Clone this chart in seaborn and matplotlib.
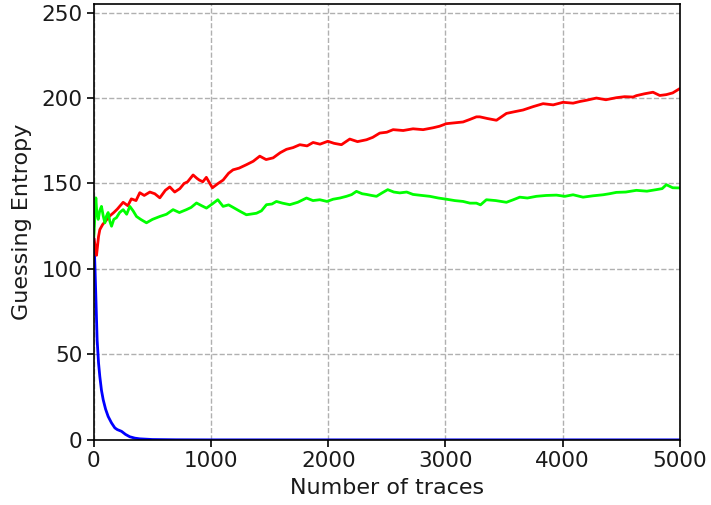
import matplotlib
matplotlib.use("Agg")
import matplotlib.pyplot as plt
import seaborn as sns

# ---- data ----
red_x = [0, 10, 23, 40, 51, 75, 100, 136, 170, 200, 250, 290, 320, 360, 392, 430, 478, 520, 563,
         610, 648, 690, 734, 770, 800, 847, 880, 900, 930, 960, 990, 1012, 1060, 1103, 1150, 1188,
         1240, 1302, 1360, 1416, 1470, 1530, 1590, 1644, 1700, 1758, 1820, 1871, 1930, 1997, 2050,
         2113, 2184, 2250, 2327, 2380, 2440, 2500, 2554, 2640, 2724, 2810, 2895, 2950, 3009, 3080,
         3151, 3210, 3265, 3294, 3360, 3436, 3521, 3590, 3663, 3750, 3834, 3920, 4004, 4090, 4150,
         4204, 4289, 4370, 4459, 4530, 4602, 4630, 4700, 4772, 4830, 4886, 4940, 5000]
red_y = [118, 114, 108, 119, 123, 126, 128, 131, 133, 135, 139, 137, 141, 140, 144.6, 143, 145,
         144, 141.6, 146, 148, 145, 147, 150, 151, 155, 153, 152, 151, 153.6, 150, 147.5, 150, 152,
         156, 158, 159, 161, 163, 166, 164, 165, 168, 170, 171, 172.7, 172, 174, 173, 174.7, 173.5,
         172.7, 176, 174.5, 175.6, 177, 179.5, 180, 181.5, 181, 182, 181.5, 182.6, 183.5, 185, 185.5,
         186, 187.5, 189, 189, 188, 187, 191, 192, 193, 195, 196.7, 196, 197.5, 197, 198, 198.7,
         200, 199, 200.2, 200.8, 200.6, 201.4, 202.5, 203.4, 201.5, 202, 203, 205.5]

green_x = [0, 8, 17, 25, 37, 50, 65, 80, 94, 108, 122, 136, 151, 170, 193, 220, 250, 280, 307,
           335, 364, 400, 449, 500, 563, 620, 676, 730, 790, 830, 876, 920, 961, 1010, 1058, 1103,
           1150, 1189, 1240, 1302, 1388, 1430, 1473, 1520, 1558, 1610, 1672, 1740, 1815, 1870, 1928,
           1990, 2042, 2100, 2156, 2200, 2241, 2290, 2327, 2370, 2412, 2460, 2508, 2560, 2611, 2670,
           2724, 2800, 2867, 2940, 3009, 3080, 3151, 3210, 3265, 3300, 3350, 3430, 3521, 3580, 3635,
           3700, 3777, 3860, 3948, 4020, 4090, 4175, 4260, 4346, 4400, 4459, 4540, 4630, 4720, 4800,
           4850, 4886, 4940, 5000]
green_y = [119, 130, 141.6, 133, 129, 134, 136.6, 131, 127, 131, 133, 128, 125, 129, 130, 133,
           134.7, 132, 136.6, 134, 130.7, 129, 127, 129, 130.7, 132, 134.7, 133, 134.7, 136, 138.6,
           137, 135.6, 138, 140.5, 136.6, 137.5, 136, 134, 131.7, 132.6, 134, 137.6, 138, 139.5,
           138.5, 137.6, 139, 141.5, 140, 140.5, 139.5, 140.8, 141.5, 142.5, 143.5, 145.4, 144,
           143.6, 143, 142.5, 144.5, 146.4, 145, 144.5, 145, 143.6, 143, 142.5, 141.5, 140.8, 140,
           139.5, 138.5, 138.5, 137.5, 140.5, 140, 139, 140.5, 142, 141.5, 142.5, 143, 143.2, 142.5,
           143.4, 142, 142.8, 143.4, 144, 144.8, 145, 146, 145.5, 146.4, 147, 149.3, 147.5, 147.4]

blue_x = [0, 5, 10, 17, 28, 40, 51, 65, 80, 100, 122, 150, 179, 200, 236, 270, 307, 350, 392,
          500, 700, 1000, 5000]
blue_y = [118, 110, 100, 84, 58.5, 45, 37, 29, 23.4, 18, 13.7, 10, 7, 6, 5, 3.2, 1.8, 1.0, 0.6,
          0.2, 0.05, 0, 0]

x_ticks = [0, 1000, 2000, 3000, 4000, 5000]
y_ticks = [0, 50, 100, 150, 200, 250]

sns.set_style("ticks")
plt.rcParams['font.family'] = ['DejaVu Sans']

fig, ax = plt.subplots(figsize=(7.11, 5.05), dpi=100)
fig.subplots_adjust(left=0.132, right=0.956, bottom=0.129, top=0.992)

sns.lineplot(x=blue_x, y=blue_y, ax=ax, color="#0000ff", linewidth=2)
sns.lineplot(x=red_x, y=red_y, ax=ax, color="#ff0000", linewidth=2)
sns.lineplot(x=green_x, y=green_y, ax=ax, color="#00ff00", linewidth=2)

ax.set_xlim(0, 5000)
ax.set_ylim(0, 255)
ax.set_xticks(x_ticks)
ax.set_yticks(y_ticks)
ax.grid(True, linestyle="--", color="#b0b0b0", linewidth=1)
ax.set_axisbelow(True)
for s in ax.spines.values():
    s.set_color("black")
    s.set_linewidth(1.2)
ax.tick_params(axis="both", labelsize=15.5, length=5, width=1.2, color="black",
               labelcolor="#1a1a1a", pad=3)
ax.set_xlabel("Number of traces", fontsize=16, color="#1a1a1a", labelpad=5)
ax.set_ylabel("Guessing Entropy", fontsize=16, color="#1a1a1a", labelpad=7)

fig.savefig("out.png", dpi=100)
